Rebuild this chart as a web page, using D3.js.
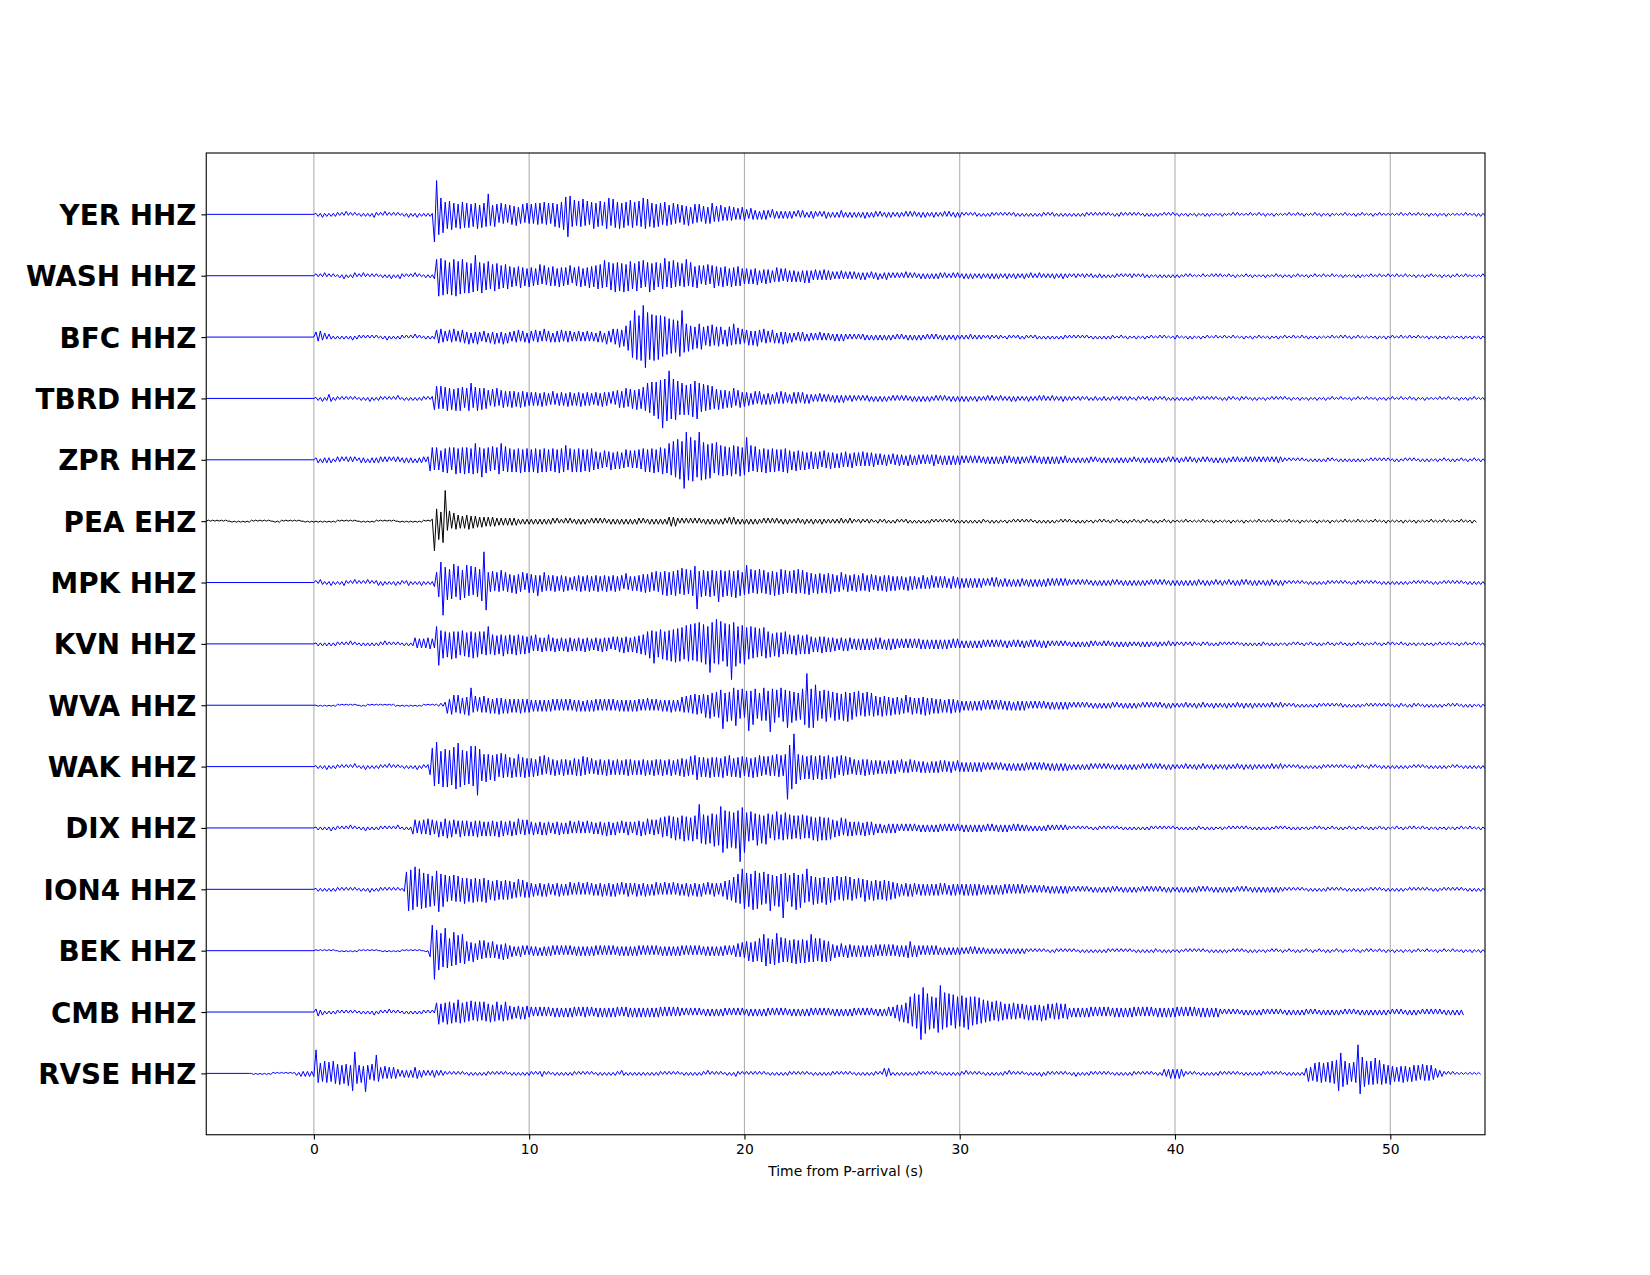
<!DOCTYPE html>
<html><head><meta charset="utf-8">
<script src="https://cdn.jsdelivr.net/npm/d3@7"></script>
<style>body{margin:0;background:#fff} svg{display:block}</style>
</head><body><svg id="chart" width="1650" height="1275"></svg>
<script>
// ---------------- data ----------------
const stations = ["YER","WASH","BFC","TBRD","ZPR","PEA","MPK","KVN","WVA","WAK","DIX","ION4","BEK","CMB","RVSE"];
const channels = ["HHZ","HHZ","HHZ","HHZ","HHZ","EHZ","HHZ","HHZ","HHZ","HHZ","HHZ","HHZ","HHZ","HHZ","HHZ"];
// time (s) of first sample in each trace; before it the trace is flat from the window start
const dataStart = [0,0,0,0,0,-5,0,0,0,0,0,0,0,0,-3];
const windowStart = -5;
const sampleStep = 0.1;          // seconds between successive extrema
const ampPerSpacing = 60;        // amplitude units per trace spacing
const xTicks = [0,10,20,30,40,50];
const xLabel = "Time from P-arrival (s)";
// successive extrema (base-36 magnitudes, alternating sign), one 10-sample string per second
const traceYER = ["1213121212","2121312121","1212121321","2131212121","1213121312","12121rxkgi","cedfbdaecd","bdacbe9dbc","kb9ca8b9a8","9a8b79a8b9","a9bab9cab9","bcadcfhmic","ebdcfbdace","bcdbcegbfd","cebdcbedcb","dcgefcbdac","bacb9ab9a8","9a8b79a8a7","8979b78796","7686756576","5465453545","4354343434","3432434323","3432323423","2323432323","2323242323","3232232322","2322323232","2323222322","2232322323","2121212212","1212212121","2121221212","1212121221","2122121212","1212121221","2121212121","1212212121","2121121212","1211212121","1211121112","1112121111","1211112121","1111211121","1211121111","1121112112","1111211211","1211111121","1112112111","1211211111","1111211121","1121111211","1211121111","1111211112","1211"];
const traceWASH = ["2121312121","1213121231","2131212121","1212131213","2121213121","121213gkhj","fidjgkeigh","dhcgkfdhce","edbfcdacbd","9b8a9c8a7b","8a79b8a98a","9a7b8a89a7","8a9b7a8c9b","adbcfbdecg","dfcgbfedcf","ecfbdgcedb","cdhbecfbda","cbgadb9ca8","a9b8ac9a8b","9a7b8a9a78","7868795768","6756867576","5656465757","5464546454","4343534343","4334343243","3423343232","3232423232","2323232323","3232223232","2323232223","2223232322","2322232223","2232223222","2223222322","2122212221","2212221212","1221212122","2121221211","1212121212","1211212111","1121112121","2111211211","1121121111","1211112112","1112112111","1211211121","1121111211","1112121111","2111211121","1121112111","1211121121","1112111211","2111211111","1121"];
const traceBFC = ["5463423212","1212121312","2121212121","1213121212","2121213121","1212127685","6475846576","5746575465","4657465746","5465746546","6475648465","4565746564","5464546454","4565476587","8a79bdgkqm","lnvuommnlm","ljkhighfgj","qfdebcabdc","a8b9c8a9a7","79a8d79786","7868697586","6576465756","4543545434","4343534343","3434343232","3232332323","2323232322","3232232323","2322323232","2323222322","2222322222","2122212221","1221212212","2121221212","1212121221","2121212121","1212121212","2111211211","1211121121","1121211112","2111121211","1211211121","1121112111","1211121121","1112111211","2111211121","1211121111","1121112121","1211211111","1112111211","2111211121","1121111211","1211121111","1112111211","1211"];
const traceTBRD = ["1213124312","2121212121","1212131212","2121212131","1212121212","21212bcaca","bcab9cacb9","acf9bcabaa","8798a78978","7978697867","6767586756","7657675867","5768576756","6758676576","8979a89a8b","9abcfeghgk","itjmrkjlhg","fgdgeihkfd","ecdbca9b8a","8979a78968","6756757646","5645657564","4565646545","4343534343","3434343233","3232323323","2323232232","3232322323","2323232232","3232232323","2323222322","2232322232","2223232222","2322223232","2232222322","2221222122","1222122212","2122212221","1221212212","2121221212","1212121221","2121212121","1212212112","2121121211","1211212121","2112111211","1211121112","1121112111","1211211121","1112111211","2111211121","1211121111","1121112111","1211121121","1112"];
const traceZPR = ["2313232312","3231323231","2323132323","3232313232","2323231323","323bcaca9c","bdcacebdce","cdbegdchbd","cbdacegbdc","bcacbdacbc","acbdacbcab","bcadbceabc","acbcabacba","8978978a79","8978a79898","a9bcacbdac","cebdgfihkj","isrkmljhrk","hjfigdhfeg","dfcgeedgcf","mcebdcacbd","acbcabacbd","9a8b9a8a79","8979879879","7868778768","7676867677","6565565465","5655465545","5454545654","4545454545","4343434343","3434343434","4343343433","3343433434","3434343343","2323232323","3232232323","2323232322","3223232323","2323223232","2322323223","2232322323","2323223232","2232323232","3232323332","2121212121","1212121212","2121121212","1212121211","2121212121","1212112121","2112121211","1211211212","1121121121","1211"];
const tracePEA = ["1010101010","0101010101","1010101010","0101101010","1010010101","0101010101","1010101010","0101010110","1010101001","0101010101","10102tci9l","u9a7886757","6857564645","4545343434","3434232323","2323232323","3232223232","2323232232","3232322323","2323232323","3232232323","2323454532","3232323232","2323232323","3243432323","2323232232","3232322323","2222322322","2322232222","2222322232","2122212221","1221221212","2121221212","1212122121","2121212212","1212121212","2112121211","1211212121","2121121212","1212112121","2112121211","1211212112","1121121211","2112112112","1211211211","1111211111","1121111211","1111121111","1211111121","1111211111","1121111211","1111121111","1211111121","1111211111","1121111211","1111121111","1211111121","1111211111","1121111211"];
const traceMPK = ["2132121312","1213212131","2121312123","1312121312","2123121213","121214aekw","fhdgieghcf","hdgcfediur","a9b8a9c8a9","8a7b89a79a","8a7d79a878","7968796857","6879687968","7968796879","6876976868","798a89a8b9","acbdacbdcb","ecdbcdgqbe","cdbecdbjce","bdcebfcdac","hbdacbdacb","acbdacdbca","bacbdacbac","9a8b9a8a9b","8979a78978","8978987987","7868797868","6767586766","5676567565","6565466556","4545454545","4343545434","4434343443","3434343434","4343434343","3232323232","2323232323","3232232323","2323232232","3232322323","2323232323","3223232232","2322322323","3232232322","2323322323","2121212121","1212121212","2121212121","1212212121","2121121212","1212121211","2121212112","1211212121","2121121212","1212"];
const traceKVN = ["1212121212","2121213121","1212121212","2131212121","1212126454","546554hlde","cdbfcecbdc","bdcebdcacb","ha9b8a9c8a","9a8b9a8a79","8797686797","6857675867","5767586756","6758676576","7869786879","8a9bcedjcd","efcgdheifh","gfihjgkhli","jkhsljokmh","kmjzlmhjik","gfhegdfcge","cdacbdbaca","9a8b9a8a9a","7868797868","6756675765","5656565656","6565465655","5454545454","5545454545","4545445454","3434343434","4343434343","3433434334","3343433434","3232323232","2323232323","3232223232","2323232322","2223232322","2322223222","2122212221","1221221212","2121212121","1212121212","2112121211","1211212112","1121121211","2112112112","1211211211","1121121121","2111211211","1211121112","1121112111","1211211121","1112"];
const traceWVA = ["0101010101","1010101010","0101101010","1010101101","0101010101","1010101121","3869a7a879","8ah7968797","7868797868","6767686767","5656565656","6565656565","5656465656","6565656565","5656565656","6565756565","5656575656","8797a8b9a8","bcadcbdcfn","cgdfhkfdgc","epejgdcfhf","eqghfchgfm","ehdfcegjvm","gmkfedfgec","dfcebfdgce","dbeacbdacb","9a8b9a8a79","8978a78978","798a797868","6757686757","4545454545","5454545454","4545354545","4343434343","3434343434","3232323232","2323232323","3232232323","2322323232","3232232322","2222322223","2232222322","2223222232","2322232222","2222322232","2121221212","1212122121","2121212212","1212121121","2121212121","1212211212","2121121212","1212112121","2112121211","1211"];
const traceWAK = ["1212131212","2121212131","1213121212","2121312121","1212121312","2128ijohfk","hkgijmnkgi","fhkjkshecf","cdbecadbca","9b8aca9b8a","8a79a8b798","7968797868","8979a89787","6878697868","7868797868","6879686978","7968796879","8a79a8bd9a","9a8b9a9a8b","a9ba8a9ba9","9a8b9ab9a8","a9b9cab9cw","lmwhcdbcac","bdacbdacbc","9ba8b9a897","7868797868","6767576767","6576567565","5656465656","6565565465","4545454545","4343434343","3434343434","4343434343","3434343434","2323232323","3232323232","2323232323","2322323232","3232232322","2222322223","2232222322","2223222232","2322232222","2222322232","2121212212","1212121221","2121212121","1212212112","2121121212","1212121211","2121211212","1212121121","2112121212","1212"];
const traceDIX = ["1212121312","2121213121","1213121212","2121212131","1212168576","8697867968","9a79867978","7868797868","6878697867","7867968786","6756675765","5667565675","6575657566","5667586757","6575676567","7867968786","a9b8cabcab","cdbcadcbnf","dgcfeidhlo","hkgjfkhxko","fdgcehdfcg","eadcgbdcfb","dbcacbdaca","bcadbcacab","8978a79868","6767586767","4545354545","4343434343","3434343434","4343434343","3434343434","3343433434","3433434333","3323232323","3232323232","2121212121","1212212121","2121121212","1212121221","2121212121","1212121212","2112121211","1211212121","2121121212","1212112121","2112121211","1211212112","1121121211","2112112112","1211211211","1121121121","2111211211","1211121112","1121112111","1211"];
const traceION4 = ["1212121212","2121212121","1212131212","2121212121","12hljkmhkj","gifhdgimfh","ecdbecdcbe","bcadbcacbd","9a8b9a8a9a","8978a79878","6756675765","5667565675","6575657566","5667566757","6575676567","5667565675","6575657566","5667566757","6575676567","8a9bcdfekj","ghfkijgfhe","flegdhfsgc","ehgkeifdkc","dfcebdcfbd","cbdacbdacb","a9b8ac9a8b","9a8a9b8a79","6756675765","5656565656","6565465655","5656565655","4545454545","5454545454","4343434343","3434343434","3232323232","2323232323","3232232323","2322323232","3232232322","2323232323","3232322323","2323232232","3232232323","2323232322","2121212121","1212121212","2121212112","1212121211","2121211212","1212121121","2121212112","1211212121","2121121212","1211"];
const traceBEK = ["1010101010","0101010101","1010101010","0101010101","1010101010","0106pskjhg","mhcfiefcgd","9a8b79a8a7","8797686978","5645465454","4545354545","5454545454","4545454545","5454545454","4545454545","5454545454","4545454545","5454545454","4545454545","5454567687","9a8b9acbgf","cdbehcdbcb","acbdacbcab","gbcacbab9a","6756765766","5656565656","6565656565","5656579656","5454545454","3434343434","3333434333","3323232323","2323232323","2121212121","1212212121","2121121212","1212121221","2121212121","1212121212","2112121211","1211212121","2121121212","1212112121","2112121211","1211212112","1121121211","2112112112","1211211211","1121121121","2111211211","1211121112","1121112111","1211211121","1112111211","1211"];
const traceCMB = ["3423121212","2121212121","1212121312","2121312121","1212121212","2121219c8a","9cab9acb9a","a9b8a9a8a9","8a79a879a8","6756675765","5454545454","4545454545","5454555454","4545454545","5454554545","4545454545","5454545454","4343434343","3434343434","4343434343","3434343434","4343434343","3434343434","4343434343","3434343434","4343434343","3434345456","797a9bfeig","hrolihfgek","qhjfidhgfe","gfehfdfceb","cab9a8b9a8","8787978687","7868787968","8687978687","4545454545","5454545454","4545454545","5454545454","4545454545","5454545454","4545454545","3232323232","2323232323","3232323232","2323232323","3232322323","2323232232","3232232323","2323232322","3232322323","2322323232","3232232323","2323"];
const traceRVSE = ["0101010101","1010101010","1213232323","n9a8c9b8ca","9b8a9c8hla","897i8697i8","6575656543","3434346534","3232343232","2121212121","1212121212","2121212121","1212121212","2121232121","1212121212","2121212121","1212121212","2132121212","1212121212","2121212121","1212121212","2131212121","1212132121","2121212121","1212121212","2121212121","1212121212","2121212121","1212121212","2121535212","1212121212","2121212121","1212121212","2131212121","1212121212","2131212121","1212121312","2121212121","1213121212","2121212121","1212121212","2121212121","1212434545","4543212121","1212121212","2121212121","1212121212","2121212121","1212121212","5867a8b9a8","b9cadhkdcb","a8b9skgdcb","cbfadb9a8b","7868797868","8786978786","5433212121","1111111111","11"];
const traceSamples = [traceYER,traceWASH,traceBFC,traceTBRD,traceZPR,tracePEA,traceMPK,traceKVN,traceWVA,traceWAK,traceDIX,traceION4,traceBEK,traceCMB,traceRVSE];

// ---------------- layout ----------------
const W = 1650, H = 1275;
const m = {left: 206.25, right: 1485, top: 153, bottom: 1134.75};
const svg = d3.select("#chart");
const x = d3.scaleLinear().domain([-5, 54.4]).range([m.left, m.right]);
const y = d3.scaleLinear().domain([-1, stations.length]).range([m.bottom, m.top]);
const offsets = stations.map((s, i) => stations.length - 1 - i);

svg.append("rect").attr("width", W).attr("height", H).attr("fill", "#fff");
svg.append("defs").append("clipPath").attr("id", "plotclip")
  .append("rect").attr("x", m.left).attr("y", m.top)
  .attr("width", m.right - m.left).attr("height", m.bottom - m.top);

// grid
svg.append("g").selectAll("line").data(xTicks).join("line")
  .attr("x1", d => x(d)).attr("x2", d => x(d))
  .attr("y1", m.top).attr("y2", m.bottom)
  .attr("stroke", "#b0b0b0").attr("stroke-width", 1.1);

// traces
const line = d3.line().x(d => x(d[0])).y(d => y(d[1]));
const gTr = svg.append("g").attr("clip-path", "url(#plotclip)");
traceSamples.forEach((chunks, i) => {
  const vals = chunks.join("").split("").map(c => parseInt(c, 36));
  const off = offsets[i];
  const pts = [[windowStart, off]];
  if (dataStart[i] > windowStart) pts.push([dataStart[i], off]);
  vals.forEach((v, k) => {
    const sgn = k % 2 === 0 ? 1 : -1;
    pts.push([dataStart[i] + (k + 1) * sampleStep, off + sgn * v / ampPerSpacing]);
  });
  gTr.append("path").attr("d", line(pts)).attr("fill", "none")
    .attr("stroke", channels[i] === "EHZ" ? "#000000" : "#0000ff")
    .attr("stroke-width", 1.0).attr("stroke-linejoin", "round");
});

// axes
const xAxis = d3.axisBottom(x).tickValues(xTicks).tickFormat(d3.format("d"))
  .tickSize(4.86).tickPadding(4.3);
const gx = svg.append("g").attr("transform", `translate(0,${m.bottom})`).call(xAxis);
gx.select(".domain").remove();
gx.selectAll("line").attr("stroke", "#000").attr("stroke-width", 1.1);
gx.selectAll("text").attr("font-family", "DejaVu Sans").attr("font-size", "13.9px").attr("fill", "#000");

const yAxis = d3.axisLeft(y).tickValues(offsets).tickFormat((d, i) => stations[i] + " " + channels[i])
  .tickSize(4.86).tickPadding(4.9);
const gy = svg.append("g").attr("transform", `translate(${m.left},0)`).call(yAxis);
gy.select(".domain").remove();
gy.selectAll("line").attr("stroke", "#000").attr("stroke-width", 1.1);
gy.selectAll("text").attr("font-family", "DejaVu Sans").attr("font-weight", "bold")
  .attr("font-size", "27.8px").attr("fill", "#000").attr("dy", "0.36em");

// spines
svg.append("rect").attr("x", m.left).attr("y", m.top)
  .attr("width", m.right - m.left).attr("height", m.bottom - m.top)
  .attr("fill", "none").attr("stroke", "#000").attr("stroke-width", 1.1);

// x label
svg.append("text").attr("x", (m.left + m.right) / 2).attr("y", 1176)
  .attr("text-anchor", "middle").attr("font-family", "DejaVu Sans").attr("font-size", "13.9px")
  .attr("fill", "#000").text(xLabel);
</script>
</body></html>
